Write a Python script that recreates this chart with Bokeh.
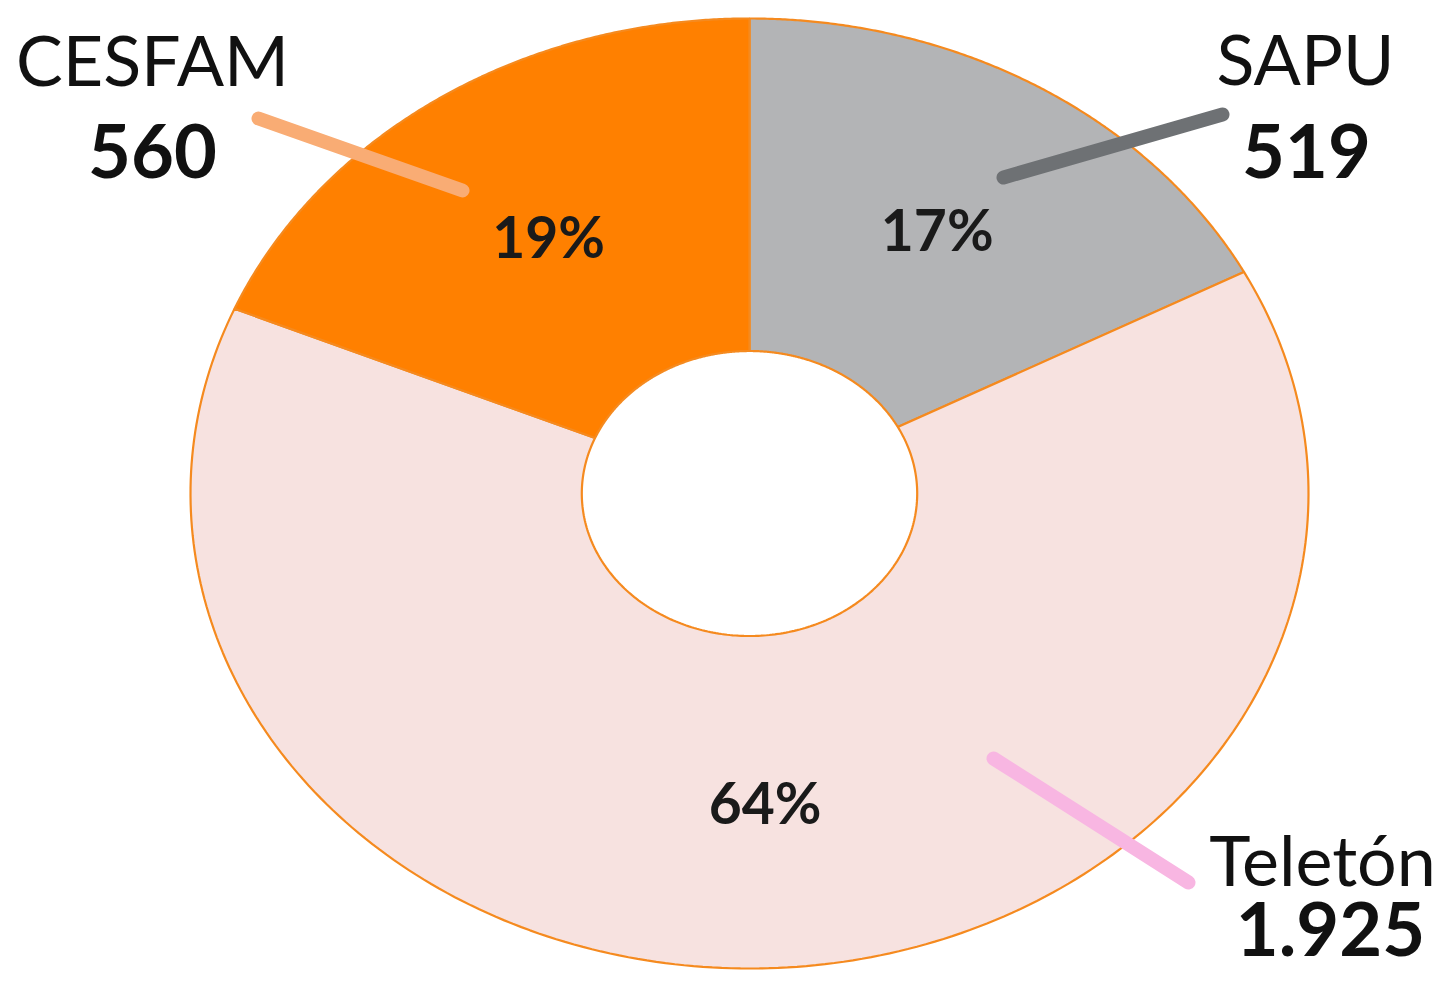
import numpy as np
from bokeh.plotting import figure
from bokeh.models import ColumnDataSource, Range1d
from bokeh.embed import file_html
from bokeh.resources import INLINE
from bokeh.core.properties import value

# ---- data (clockwise from 12 o'clock) ----
categories = ["SAPU", "Teletón", "CESFAM"]
counts = [519, 1925, 560]
count_labels = ["519", "1.925", "560"]

# ---- styles ----
slice_colors = ["#B3B4B6", "#F7E2E0", "#FF8000"]
leader_colors = ["#6E7174", "#F8B6E2", "#F9AC74"]
edge_color = "#F58A1F"
FONT = "Lato"

# ---- layout (reference pixel frame) ----
W, H = 1437, 976
CX, CY = 749, 493          # donut centre
RX, RY = 559, 475          # outer half-axes in pixels
INNER = 0.30               # hole radius relative to outer


def d(xr, yr):
    return (xr - CX) / RX, (CY - yr) / RY


p = figure(width=W, height=H, output_backend="svg", toolbar_location=None,
           x_range=Range1d(-CX / RX, (W - CX) / RX),
           y_range=Range1d((CY - H) / RY, CY / RY),
           min_border=0)
p.axis.visible = False
p.grid.visible = False
p.outline_line_color = None
p.background_fill_color = "white"
p.border_fill_color = "white"

total = float(sum(counts))
fracs = [c / total for c in counts]
cum = np.concatenate([[0.0], np.cumsum(fracs)])
starts = np.deg2rad(90 - cum[:-1] * 360)
ends = np.deg2rad(90 - cum[1:] * 360)

xs, ys, mids = [], [], []
for a0, a1 in zip(starts, ends):
    t = np.linspace(a0, a1, 240)
    ox, oy = np.cos(t), np.sin(t)
    ix, iy = INNER * np.cos(t[::-1]), INNER * np.sin(t[::-1])
    xs.append(np.concatenate([ox, ix]).tolist())
    ys.append(np.concatenate([oy, iy]).tolist())
    mids.append((a0 + a1) / 2)

p.patches(xs=xs, ys=ys, fill_color=slice_colors, line_color=edge_color,
          line_width=2.2)

# leader lines (inner end near slice, outer end near label)
leader_px = {
    "SAPU": ((1003, 177), (1222, 114)),
    "Teletón": ((993, 758), (1188, 882)),
    "CESFAM": ((462, 190), (258, 118)),
}
lx, ly = [], []
for cat in categories:
    (x0, y0), (x1, y1) = leader_px[cat]
    a, b = d(x0, y0)
    c, e = d(x1, y1)
    lx.append([a, c])
    ly.append([b, e])
p.multi_line(xs=lx, ys=ly, line_color=leader_colors, line_width=14,
             line_cap="round")

# percentage labels at slice mid-angles
pct = ["%d%%" % round(f * 100) for f in fracs]
r_lab = 0.65
psrc = ColumnDataSource(dict(x=[r_lab * np.cos(m) for m in mids],
                             y=[r_lab * np.sin(m) for m in mids],
                             t=pct))
p.text(x="x", y="y", text="t", source=psrc, text_align="center",
       text_baseline="middle", text_font=value(FONT), text_font_style="bold",
       text_font_size="57px", text_color="#1A1A1A")

# names and counts (positions = visual centre of the glyphs)
name_px = {"SAPU": (1305, 57), "Teletón": (1322, 858), "CESFAM": (152, 58)}
count_px = {"SAPU": (1306, 150), "Teletón": (1330, 928), "CESFAM": (152, 150)}
nx, ny, cx_, cy_ = [], [], [], []
for cat in categories:
    a, b = d(*name_px[cat])
    nx.append(a); ny.append(b)
    a, b = d(*count_px[cat])
    cx_.append(a); cy_.append(b)

p.text(x=nx, y=ny, text=categories, text_align="center",
       text_baseline="middle", text_font=value(FONT),
       text_font_size="70px", text_color="#111111")
p.text(x=cx_, y=cy_, text=count_labels, text_align="center",
       text_baseline="middle", text_font=value(FONT),
       text_font_style="bold", text_font_size="74px", text_color="#111111")

open("out.html", "w").write(file_html(p, INLINE))
